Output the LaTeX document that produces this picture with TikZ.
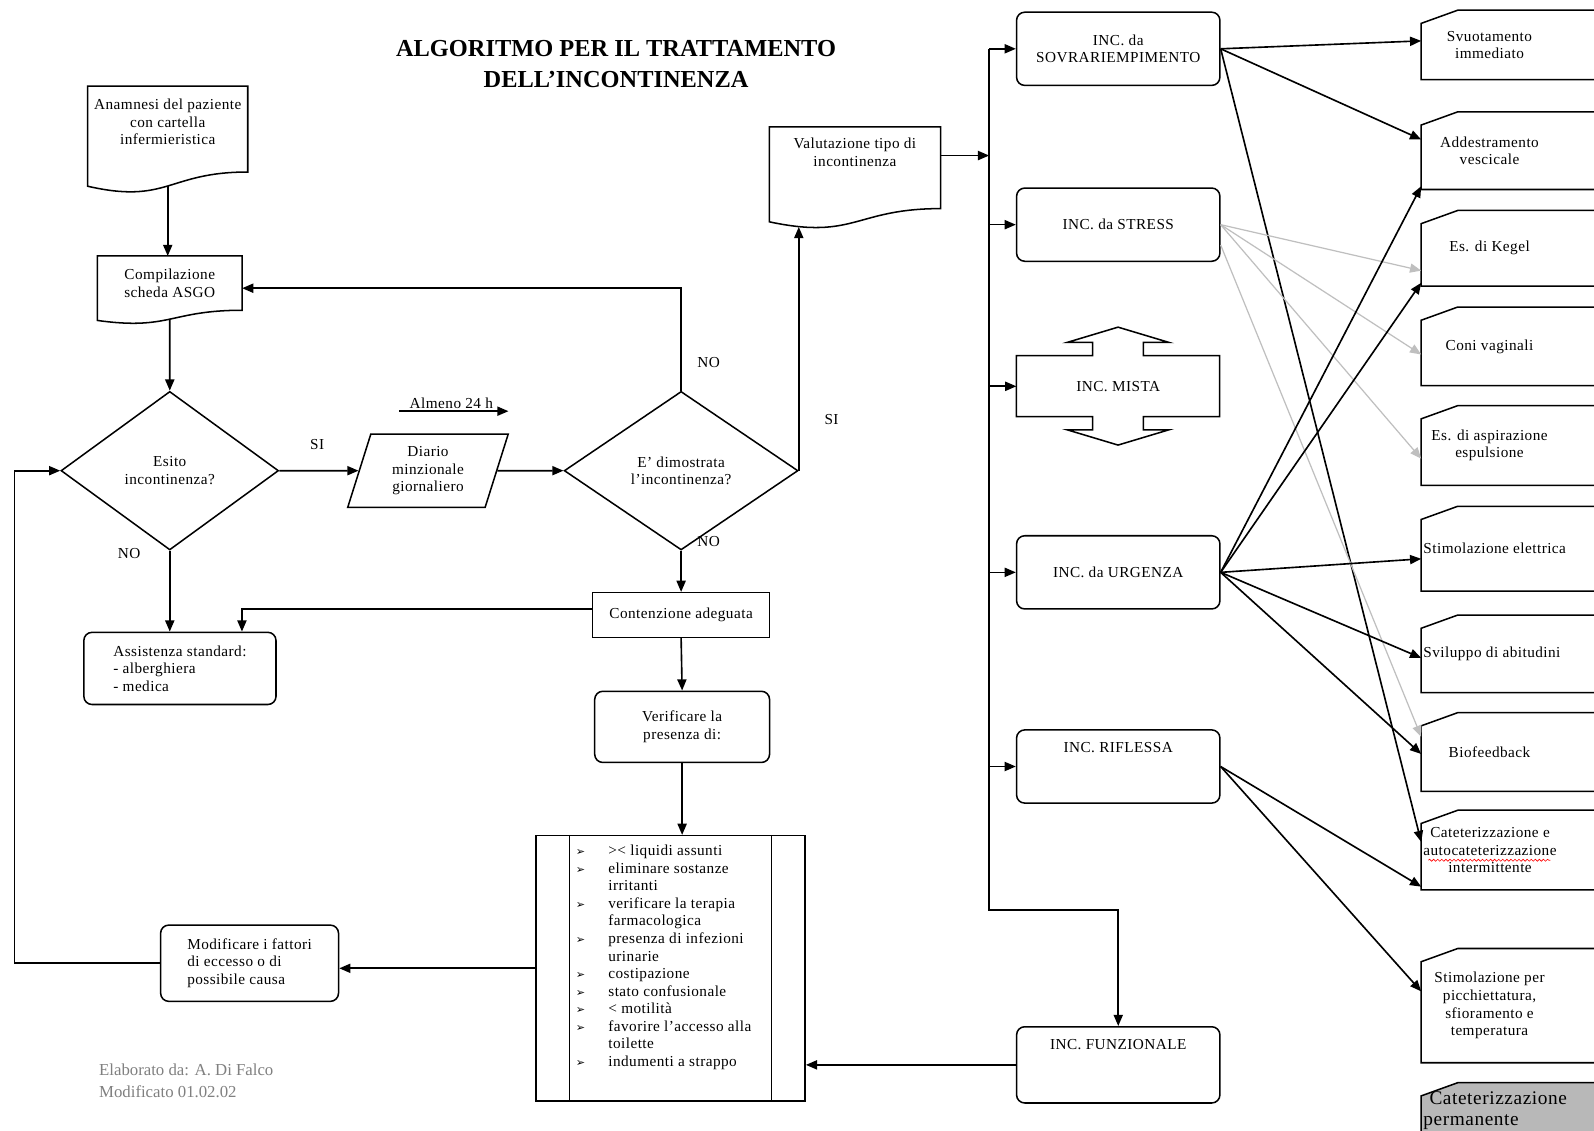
\documentclass[tikz,border=0pt]{standalone}
\usepackage{fontspec}
\setmainfont{Liberation Serif}[LetterSpace=3]
\newfontfamily\plainserif{Liberation Serif}
\newfontfamily\symfont{DejaVu Sans}
\usetikzlibrary{arrows.meta,shapes.geometric,backgrounds,decorations.pathmorphing}

\tikzset{
  boxline/.style={line width=1.5pt},
  arr/.style={line width=1.6pt, -{Triangle[length=11pt,width=9pt]}},
  lightarr/.style={line width=1.2pt, black!25, -{Triangle[length=11pt,width=9pt]}},
  docbox/.style={align=center, inner sep=3pt},
  plainbox/.style={draw, boxline, align=center},
  roundbox/.style={draw, boxline, rounded corners=8pt, align=center},
  incbox/.style={roundbox, minimum width=200pt, minimum height=72pt},
  decision/.style={draw, boxline, diamond, align=center, inner sep=0pt},
  cardbox/.style={anchor=north west, minimum width=134pt, align=center, inner sep=2pt},
  lbl/.style={inner sep=1pt},
}

% document outline under a node: #2 = drop of left end, #3 = depth of the wave
\newcommand{\docline}[3]{%
  \draw[boxline] (#1.north west) -- (#1.north east) -- (#1.south east)
    .. controls (#1.south) and ([yshift=-#3pt]#1.south) .. ([yshift=-#2pt]#1.south west)
    coordinate[pos=0.5] (#1-wave) coordinate[pos=0.85] (#1-wl) -- cycle;}
% card with cut corner, open to the right edge of the page
\newcommand{\cardline}[2][]{%
  \draw[boxline, #1] (#2.south west) -- ([yshift=-13pt]#2.north west) -- ([xshift=36pt]#2.north west)
    -- ([xshift=260pt]#2.north west) -- ([xshift=260pt]#2.south west) -- cycle;}
\newcommand{\bul}{{\symfont\fontsize{11}{11}\selectfont ➢}}

\begin{document}
\begin{tikzpicture}[x=1pt,y=-1pt,font=\fontsize{15}{17.3}\selectfont]
  \useasboundingbox (0,0) rectangle (1568,1112);

  \node[align=center, font=\plainserif\bfseries\fontsize{24}{30}\selectfont] (title) at (606,63)
    {ALGORITMO PER IL TRATTAMENTO\\DELL’INCONTINENZA};

  % left part
  \node[docbox, minimum width=157pt, minimum height=84pt, text depth=14pt] (anam) at (165,127)
    {Anamnesi del paziente\\con cartella\\infermieristica};
  \docline{anam}{14}{32}
  \node[docbox, minimum width=142pt, minimum height=53pt] (comp) at (167,278.5) {Compilazione\\scheda ASGO};
  \docline{comp}{10}{20}
  \node[decision, minimum width=214pt, minimum height=156pt, aspect=1.37] (esito) at (167,463) {Esito\\incontinenza?};
  \node[draw, boxline, trapezium, trapezium left angle=74, trapezium right angle=106, trapezium stretches=true,
        minimum width=158pt, minimum height=72pt, align=center] (diario) at (421,463) {Diario\\minzionale\\giornaliero};
  \node[lbl] (almeno) at (444,397) {Almeno 24 h};
  \node[decision, minimum width=230pt, minimum height=156pt, aspect=1.47] (dimo) at (670,463)
    {E' dimostrata\\l'incontinenza?};
  \node[docbox, minimum width=168pt, minimum height=80pt, text depth=30pt] (valut) at (841,165)
    {Valutazione tipo di\\incontinenza};
  \docline{valut}{13}{31}
  \node[plainbox, minimum width=174pt, minimum height=44pt] (cont) at (670,605) {Contenzione adeguata};
  \node[roundbox, minimum width=189pt, minimum height=71pt, align=left] (assist) at (177,657.5)
    {Assistenza standard:\\- alberghiera\\- medica};
  \node[roundbox, minimum width=172pt, minimum height=70pt] (verif) at (671,715) {Verificare la\\presenza di:};
  \node[draw, boxline, minimum width=265pt, minimum height=261pt] (lista) at (659.5,952.5) {};
  \draw[boxline] ([xshift=34pt]lista.north west) -- ([xshift=34pt]lista.south west)
    ([xshift=-34pt]lista.north east) -- ([xshift=-34pt]lista.south east);
  \node[anchor=north west, inner sep=0pt] (listtxt) at ([xshift=40pt,yshift=-8pt]lista.north west) {%
    \begin{tabular}{@{}p{32pt}@{}l@{}}
      \bul & >< liquidi assunti\\
      \bul & eliminare sostanze\\
           & irritanti\\
      \bul & verificare la terapia\\
           & farmacologica\\
      \bul & presenza di infezioni\\
           & urinarie\\
      \bul & costipazione\\
      \bul & stato confusionale\\
      \bul & < motilità\\
      \bul & favorire l'accesso alla\\
           & toilette\\
      \bul & indumenti a strappo
    \end{tabular}};
  \node[roundbox, minimum width=175pt, minimum height=75pt, align=left] (modif) at (245.5,947.5)
    {Modificare i fattori\\di eccesso o di\\possibile causa};
  \node[anchor=north west, align=left, text=black!50, font=\plainserif\fontsize{16.5}{22}\selectfont] (credit)
    at (94,1043) {Elaborato da: A. Di Falco\\Modificato 01.02.02};

  \node[lbl] (si1) at (312,437) {SI};
  \node[lbl] (si2) at (818,413) {SI};
  \node[lbl] (no1) at (697,357) {NO};
  \node[lbl] (no2) at (697,533) {NO};
  \node[lbl] (no3) at (127,544) {NO};

  \draw[arr] (anam-wave) -- (anam-wave |- comp.north);
  \draw[arr] (comp-wave) -- (esito.north);
  \draw[arr] (esito.east) -- (diario.west);
  \draw[arr] (diario.east) -- (dimo.west);
  \draw[arr] ([xshift=-9pt,yshift=-1pt]almeno.south west) -- ([xshift=14pt,yshift=-1pt]almeno.south east);
  \draw[arr] (dimo.north) |- ([yshift=-5pt]comp.east);
  \draw[arr] (dimo.east) -- (dimo.east |- valut-wl);
  \draw[arr] (dimo.south) -- (cont.north);
  \draw[arr] (esito.south) -- (esito.south |- assist.north);
  \draw[arr] ([yshift=6pt]cont.west) -| ([xshift=61pt]assist.north);
  \draw[arr] (cont.south) -- (verif.north);
  \draw[arr] (verif.south) -- (verif.south |- lista.north);
  \draw[arr] (lista.west) -- (lista.west -| modif.east);
  \draw[arr] (modif.west) -- ++(-143,0) |- (esito.west);

  % types of incontinence
  \node[incbox] (sovr) at (1100,48) {INC. da\\SOVRARIEMPIMENTO};
  \node[incbox] (stress) at (1100,221) {INC. da STRESS};
  \node[minimum width=200pt, minimum height=60pt] (mista) at (1100,380) {INC. MISTA};
  \draw[boxline] (mista.north west) -- ++(75,0) -- ++(0,-13) -- ++(-25,0) -- ++(50,-15) -- ++(50,15)
    -- ++(-25,0) -- ++(0,13) -- ++(75,0) -- ++(0,60) -- ++(-75,0) -- ++(0,13) -- ++(25,0)
    -- ++(-50,15) -- ++(-50,-15) -- ++(25,0) -- ++(0,-13) -- ++(-75,0) -- cycle;
  \node[incbox] (urg) at (1100,563) {INC. da URGENZA};
  \node[incbox, text depth=38pt] (rifl) at (1100,754) {INC. RIFLESSA};
  \node[incbox, minimum height=75pt, text depth=40pt] (funz) at (1100,1047.5) {INC. FUNZIONALE};

  \coordinate (trunk) at (973,895);
  \draw[arr] ([yshift=12pt]valut.east) -- ([yshift=12pt]valut.east -| trunk);
  \draw[arr] (trunk |- sovr.west) -- (trunk) -| (funz.north);
  \foreach \inc in {sovr,stress,mista,urg,rifl}
    \draw[arr] (trunk |- \inc.west) -- (\inc.west);
  \draw[arr] (funz.west) -- (funz.west -| lista.east);

  % treatments
  \node[cardbox, minimum height=68pt] (svuot) at (1398,10) {Svuotamento\\immediato};
  \node[cardbox, minimum height=76pt] (addestr) at (1398,110) {Addestramento\\vescicale};
  \node[cardbox, minimum height=74pt] (kegel) at (1398,207) {Es. di Kegel};
  \node[cardbox, minimum height=77pt] (coni) at (1398,302) {Coni vaginali};
  \node[cardbox, minimum height=78pt] (aspir) at (1398,399) {Es. di aspirazione\\espulsione};
  \node[cardbox, minimum height=83pt] (elettr) at (1398,498) {Stimolazione elettrica};
  \node[cardbox, minimum height=76pt] (abitud) at (1398,605) {Sviluppo di abitudini};
  \node[cardbox, minimum height=77pt] (biofeed) at (1398,701) {Biofeedback};
  \node[cardbox, minimum height=78pt] (catint) at (1398,797)
    {Cateterizzazione e\\autocateterizzazione\\intermittente};
  \node[cardbox, minimum height=112pt] (picchiet) at (1398,933)
    {Stimolazione per\\picchiettatura,\\sfioramento e\\temperatura};
  \node[cardbox, inner ysep=9pt, align=left, font=\fontsize{19}{20}\selectfont] (catperm) at (1398,1065)
    {\hspace{6pt}Cateterizzazione\\permanente};
  \foreach \card in {svuot,addestr,kegel,coni,aspir,elettr,abitud,biofeed,catint,picchiet}
    \cardline{\card};
  \begin{scope}[on background layer]
    \fill[white] (0,0) rectangle (1568,1112);
    \cardline[fill=black!28]{catperm}
  \end{scope}
  \draw[red, line width=0.6pt, decorate, decoration={snake, amplitude=1pt, segment length=4pt}]
    ([xshift=7pt,yshift=-10pt]catint.west) -- ++(120,0);

  \draw[arr] (sovr.east) -- ([yshift=4pt]svuot.west);
  \draw[arr] (sovr.east) -- ([yshift=11pt]addestr.west);
  \draw[arr] (sovr.east) -- ([yshift=8pt]catint.west);
  \draw[lightarr] (stress.east) -- ([yshift=-22pt]kegel.west);
  \draw[lightarr] (stress.east) -- ([yshift=-8pt]coni.west);
  \draw[lightarr] (stress.east) -- ([yshift=-13pt]aspir.west);
  \draw[lightarr] ([yshift=-20pt]stress.east) -- ([yshift=15pt]biofeed.west);
  \draw[arr] (urg.east) -- ([yshift=-35pt]addestr.west);
  \draw[arr] (urg.east) -- ([yshift=-34pt]kegel.west);
  \draw[arr] (urg.east) -- ([yshift=-10pt]elettr.west);
  \draw[arr] (urg.east) -- ([yshift=-4pt]abitud.west);
  \draw[arr] (urg.east) -- ([yshift=-2pt]biofeed.west);
  \draw[arr] (rifl.east) -- ([yshift=-36pt]catint.west);
  \draw[arr] (rifl.east) -- ([yshift=14pt]picchiet.west);
\end{tikzpicture}
\end{document}
